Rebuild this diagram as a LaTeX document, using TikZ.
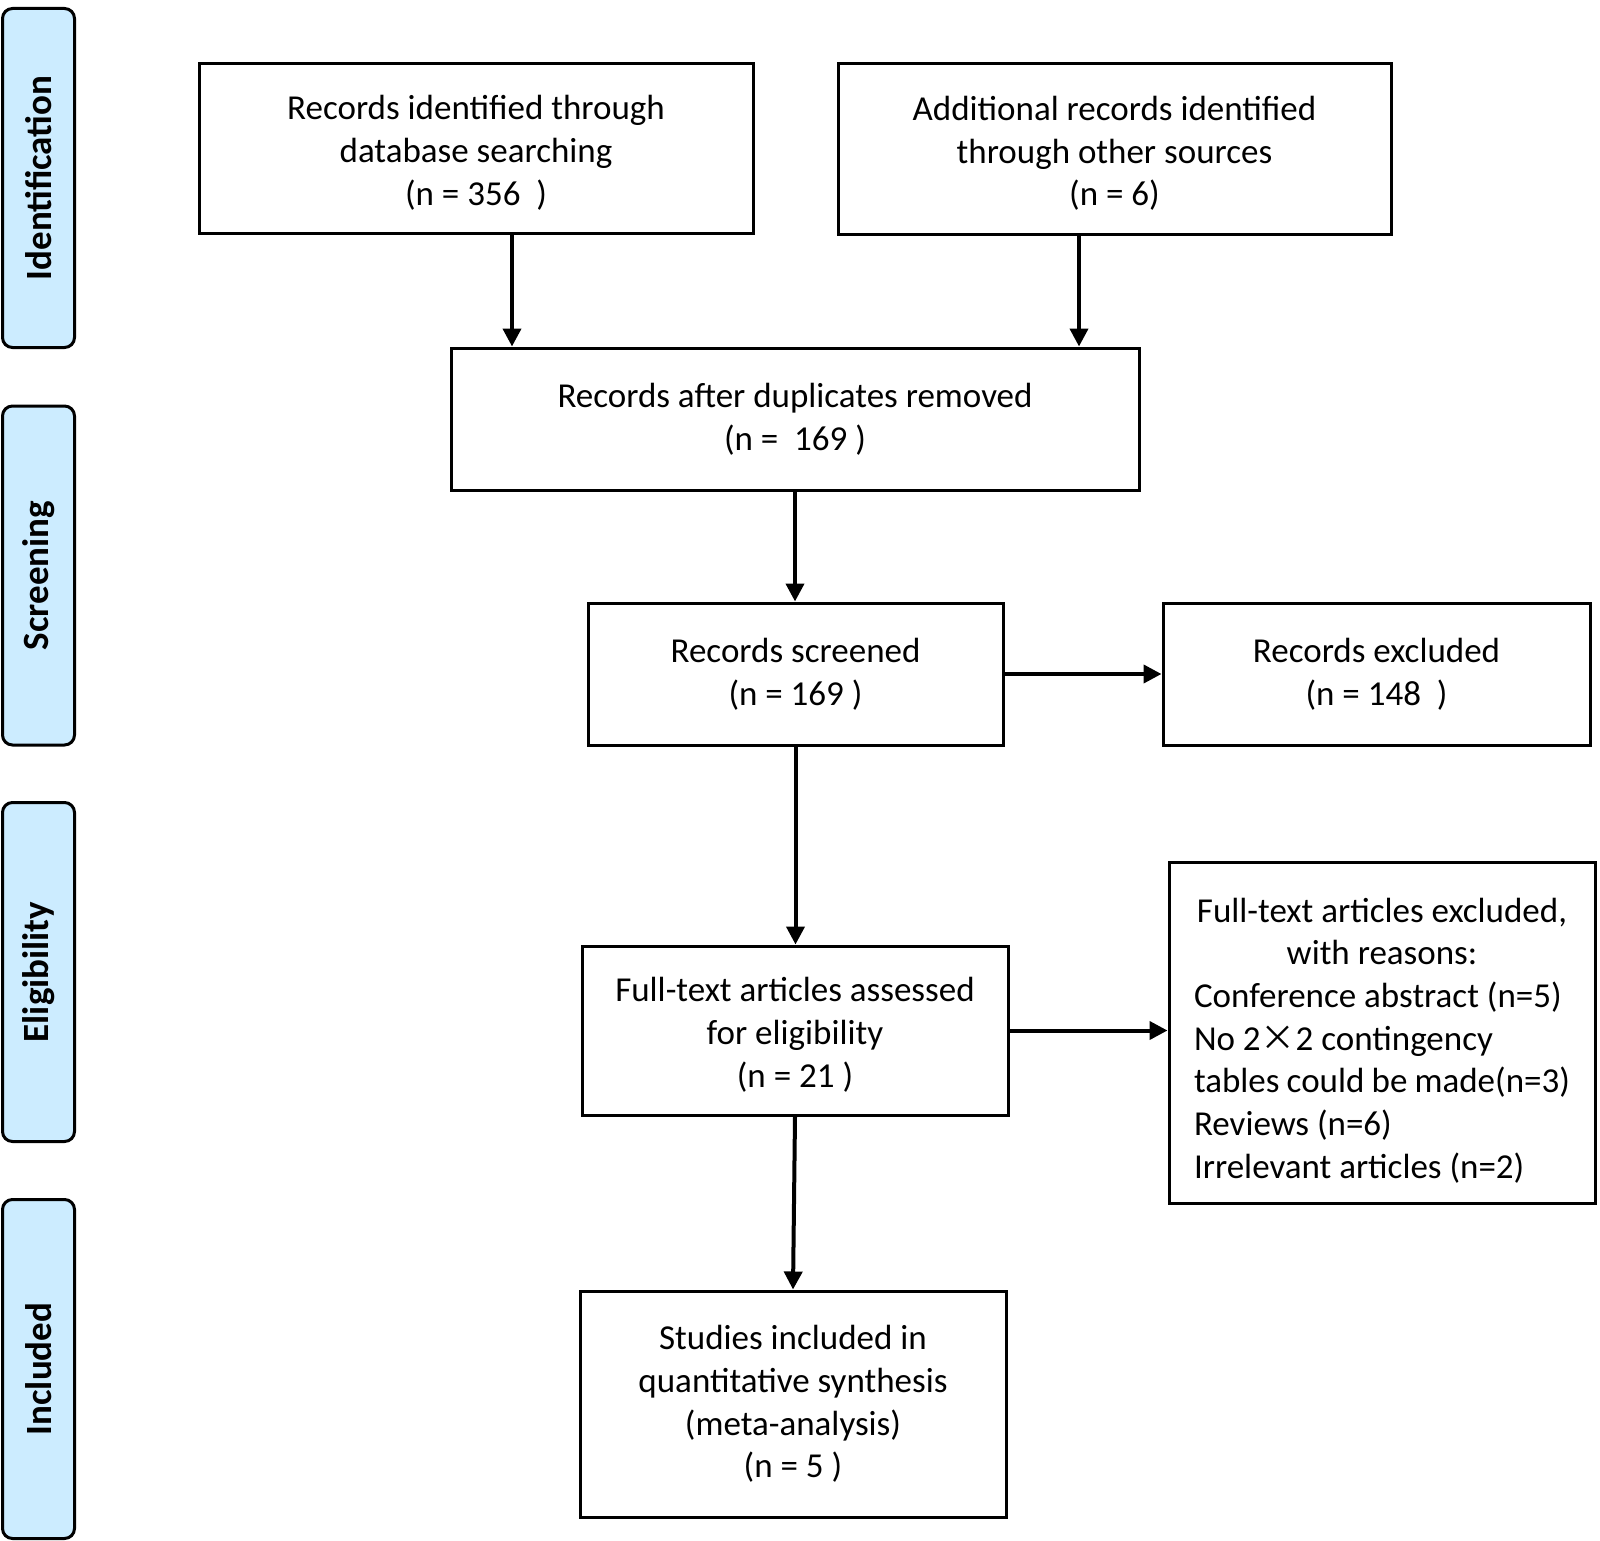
\documentclass[tikz,border=0pt]{standalone}
\usepackage{fontspec}
\setmainfont{Carlito}
\newfontfamily\cjk{Noto Sans CJK SC}
\usetikzlibrary{arrows.meta,positioning,calc}
\definecolor{phaseblue}{RGB}{204,236,255}
\newcommand{\topgap}{\rule{0pt}{33pt}}
\tikzset{
	flowbox/.style={draw, line width=3pt, align=center, inner sep=0pt, font=\fontsize{35}{42.7}\selectfont,
		execute at begin node={\spaceskip=0pt\xspaceskip=0pt}},
	phasebox/.style={draw, line width=3pt, rounded corners=10pt, fill=phaseblue, rotate=90,
		minimum width=339pt, minimum height=72pt, font=\fontsize{37}{44}\selectfont\bfseries},
	flowarrow/.style={line width=4pt, -{Triangle[length=18pt,width=18pt]}},
}

\begin{document}
\begin{tikzpicture}[x=1pt,y=-1pt]
		\fill[white] (0,0) rectangle (1600,1541);
		\useasboundingbox (0,0) rectangle (1600,1541);
		\node[phasebox] (ident) at (38.5,178) {Identification};
		\node[phasebox] (screen) at (38.5,575.5) {Screening};
		\node[phasebox] (elig) at (38.5,972) {Eligibility};
		\node[phasebox] (incl) at (38.5,1369) {Included};
		\node[flowbox, minimum width=554pt, minimum height=169pt] (db) at (476,148.5) {\topgap Records identified through\\database searching\\(n = 356~~)};
		\node[flowbox, minimum width=553pt, minimum height=170pt] (other) at (1114.5,149) {\topgap Additional records identified\\through other sources\\(n = 6)};
		\node[flowbox, minimum width=688pt, minimum height=142pt] (dup) at (795,419) {Records after duplicates removed\\(n = ~169 )};
		\node[flowbox, minimum width=415pt, minimum height=142pt] (screened) at (795.5,674) {Records screened\\(n = 169 )};
		\node[flowbox, minimum width=427pt, minimum height=142pt] (excluded) at (1376.5,674) {Records excluded\\(n = 148~~)};
		\node[flowbox, minimum width=426pt, minimum height=169pt] (fulltext) at (795,1030.5) {\topgap Full-text articles assessed\\for eligibility\\(n = 21 )};
		\node[flowbox, text depth=245pt, minimum width=426pt, minimum height=341pt, text width=376pt, align=left] (reasons) at (1382,1032.5) {{\centering Full-text articles excluded,\\with reasons:\par}Conference abstract (n=5)\\No 2{\cjk ×}2 contingency\\tables could be made(n=3)\\Reviews (n=6)\\Irrelevant articles (n=2)};
		\node[flowbox, minimum width=426pt, minimum height=226pt] (included) at (793,1404) {Studies included in\\quantitative synthesis\\(meta-analysis)\\(n = 5 )};
		\draw[flowarrow] ([xshift=36pt]db.south) -- ([xshift=36pt]db.south |- dup.north);
		\draw[flowarrow] ([xshift=-35.5pt]other.south) -- ([xshift=-35.5pt]other.south |- dup.north);
		\draw[flowarrow] (dup.south) -- (dup.south |- screened.north);
		\draw[flowarrow] (screened.east) -- (excluded.west);
		\draw[flowarrow] (screened.south) -- (screened.south |- fulltext.north);
		\draw[flowarrow] (fulltext.east) -- (fulltext.east -| reasons.west);
		\draw[flowarrow] (fulltext.south) -- (included.north);
	\end{tikzpicture}
\end{document}
